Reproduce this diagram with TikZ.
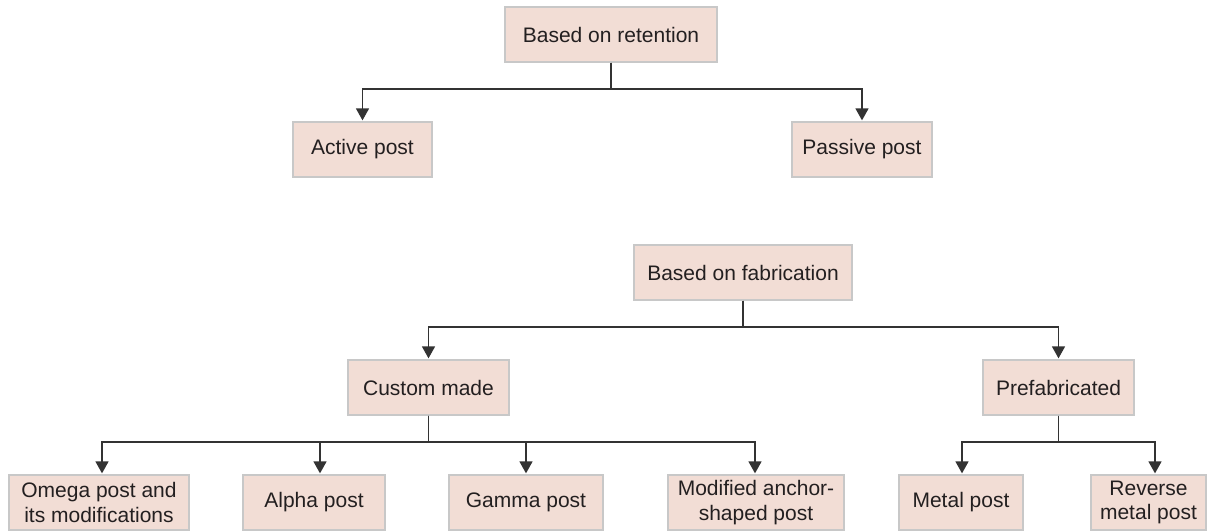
\documentclass[tikz,border=0pt]{standalone}
\usepackage{fontspec}
\setmainfont{Liberation Sans}
\usetikzlibrary{arrows.meta}
\definecolor{boxfill}{HTML}{F2DDD5}
\definecolor{boxedge}{HTML}{C8C8C8}
\definecolor{ink}{HTML}{231F20}
\definecolor{wire}{HTML}{333333}
\tikzset{
  box/.style={draw=boxedge, line width=1.3pt, fill=boxfill, text=ink,
    inner sep=0pt, minimum height=55pt, align=center,
    font=\fontsize{21}{24.5}\selectfont},
  conn/.style={draw=wire, line width=1.5pt,
    -{Triangle[width=13pt,length=12pt]}, shorten >=1pt},
}
\begin{document}
\begin{tikzpicture}[x=1pt,y=-1pt]
\useasboundingbox (0,0) rectangle (1207,531);
% row 1
\node[box, minimum width=212pt] (ret) at (611,34.5) {Based on retention};
\node[box, minimum width=139pt] (act) at (362.5,149.5) {Active post};
\node[box, minimum width=140pt] (pas) at (862,149.5) {Passive post};
% row 3
\node[box, minimum width=218pt] (fab) at (743,272.5) {Based on fabrication};
\node[box, minimum width=161pt] (cus) at (428.5,387.5) {Custom made};
\node[box, minimum width=151pt] (pre) at (1058.5,387.5) {Prefabricated};
% row 5
\node[box, minimum width=180pt] (ome) at (99,502.5) {Omega post and\\its modifications};
\node[box, minimum width=142pt] (alp) at (314,502.5) {Alpha post};
\node[box, minimum width=154pt] (gam) at (526,502.5) {Gamma post};
\node[box, minimum width=176pt] (mod) at (756,502.5) {Modified anchor-\\shaped post};
\node[box, minimum width=124pt] (met) at (961,502.5) {Metal post};
\node[box, minimum width=115pt] (rev) at (1148.5,502.5) {Reverse\\metal post};
% connectors
\draw[conn] (ret.south) -- (ret.south |- 0,89) -| (act.north);
\draw[conn] (ret.south) -- (ret.south |- 0,89) -| (pas.north);
\draw[conn] (fab.south) -- (fab.south |- 0,327) -| (cus.north);
\draw[conn] (fab.south) -- (fab.south |- 0,327) -| (pre.north);
\draw[conn] (cus.south) -- (cus.south |- 0,442) -| ([xshift=3pt]ome.north);
\draw[conn] (cus.south) -- (cus.south |- 0,442) -| ([xshift=6pt]alp.north);
\draw[conn] (cus.south) -- (cus.south |- 0,442) -| (gam.north);
\draw[conn] (cus.south) -- (cus.south |- 0,442) -| ([xshift=-1pt]mod.north);
\draw[conn] (pre.south) -- (pre.south |- 0,442) -| ([xshift=1pt]met.north);
\draw[conn] (pre.south) -- (pre.south |- 0,442) -| ([xshift=6.5pt]rev.north);
\end{tikzpicture}
\end{document}
